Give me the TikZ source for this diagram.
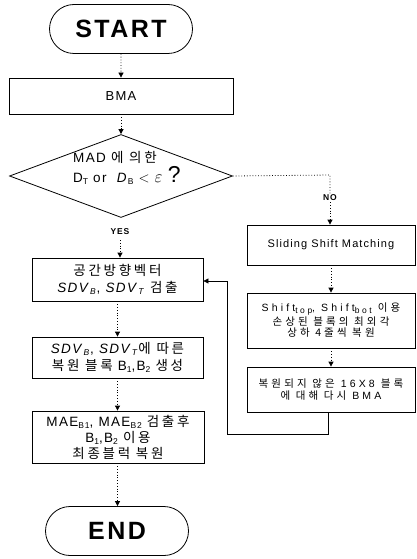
\documentclass[tikz,border=0pt]{standalone}
\usepackage{fontspec}
\setmainfont{Liberation Sans}[LetterSpace=10]
\newfontfamily\kr{Noto Sans CJK KR}[LetterSpace=20]
\newfontfamily\krw{Noto Sans CJK KR}[LetterSpace=30]
\usetikzlibrary{shapes.geometric,shapes.misc,arrows.meta}
\newcommand{\sbs}[1]{\raisebox{-0.35ex}{\fontsize{8.5}{8.5}\selectfont #1}}
\begin{document}
\begin{tikzpicture}[x=1pt,y=-1pt,
  term/.style={draw,line width=0.8pt,rounded rectangle,minimum width=143pt,minimum height=49pt,inner sep=0pt,font=\bfseries\fontsize{25}{25}\selectfont},
  box/.style={draw,line width=0.8pt,rectangle,inner sep=0pt,align=center},
  rbox/.style={box,minimum width=168pt,font=\fontsize{10.5}{11.5}\selectfont\addfontfeatures{LetterSpace=30}},
  lbox/.style={box,minimum width=171pt,font=\fontsize{13.5}{17}\selectfont},
  dec/.style={draw,line width=0.8pt,diamond,inner sep=0pt,minimum width=223pt,minimum height=83pt},
  flow/.style={dotted,line width=0.8pt,-{Triangle[length=5pt,width=5pt]}},
  loopline/.style={line width=0.7pt,-{Triangle[length=5pt,width=5pt]}},
  lbl/.style={font=\bfseries\fontsize{8.5}{8.5}\selectfont,inner sep=1pt}]
\useasboundingbox (0,0) rectangle (416,559);
\node[term] (start) at (121,29) {START};
\node[box,minimum width=224pt,minimum height=36pt,font=\fontsize{13}{13}\selectfont] (bma) at (121,96) {BMA};
\node[dec] (dec) at (121,176) {};
\node[anchor=west,align=left,inner sep=0pt,font=\fontsize{13.5}{20}\selectfont] (dectext) at (73,168)
  {MAD {\kr 에 의한}\\D\sbs{T} or \ \textit{D}\sbs{B} $<$ {\fontsize{17}{16}\selectfont$\varepsilon$} \fontsize{23}{16}\selectfont ?};
\node[lbl] (yes) at (120,232) {YES};
\node[lbl] (no) at (330,198) {NO};
\node[lbox,minimum height=43pt] (b1) at (117.5,279.5) {{\kr 공간방향벡터}\\\textit{SDV}\sbs{\textit{B}}, \textit{SDV}\sbs{\textit{T}} {\kr 검출}};
\node[lbox,minimum height=41pt] (b2) at (117.5,357.5) {\textit{SDV}\sbs{\textit{B}}, \textit{SDV}\sbs{\textit{T}}{\kr 에 따른}\\{\kr 복원 블록} B\sbs{1},B\sbs{2} {\kr 생성}};
\node[lbox,minimum height=52pt,minimum width=172pt,font=\fontsize{13.5}{16}\selectfont] (b3) at (118,437) {MAE\sbs{B1}, MAE\sbs{B2} {\kr 검출후}\\B\sbs{1},B\sbs{2} {\kr 이용}\\{\kr 최종블럭 복원}};
\node[term] (end) at (117,531) {END};
\node[box,minimum width=168pt,minimum height=40pt,font=\fontsize{11}{12}\selectfont] (r1) at (331,245) {Sliding Shift Matching};
\node[rbox,minimum height=55pt] (r2) at (331,320.5) {Shift\sbs{top}, Shift\sbs{bot} {\krw 이용}\\{\krw 손상된 블록의 최외각}\\{\krw 상하 4줄씩 복원}};
\node[rbox,minimum height=45pt] (r3) at (331,389.5) {{\krw 복원되지 않은} 16X8 {\krw 블록}\\{\krw 에 대해 다시} BMA};
\coordinate (nocorner) at (330,175);
\coordinate (yestop) at (120,240);
\coordinate (lp1) at (328,434);
\coordinate (lp2) at (227,434);
\coordinate (lp3) at (227,281);
\draw[flow] (start) -- (bma);
\draw[flow] (bma) -- (dec.north);
\draw[dotted,line width=0.8pt] (dec.east) -- (nocorner) -- (no);
\draw[flow] (no) -- (r1.north -| no);
\draw[flow] (yestop) -- (b1.north -| yestop);
\draw[flow] (b1) -- (b2);
\draw[flow] (b2) -- (b3.north -| b2);
\draw[flow] (b3.south -| b2) -- (end.north -| b2);
\draw[flow] (r1) -- (r2);
\draw[flow] (r2) -- (r3);
\draw[loopline] (r3.south -| lp1) -- (lp1) -- (lp2) -- (lp3) -- (b1.east |- lp3);
\end{tikzpicture}
\end{document}
